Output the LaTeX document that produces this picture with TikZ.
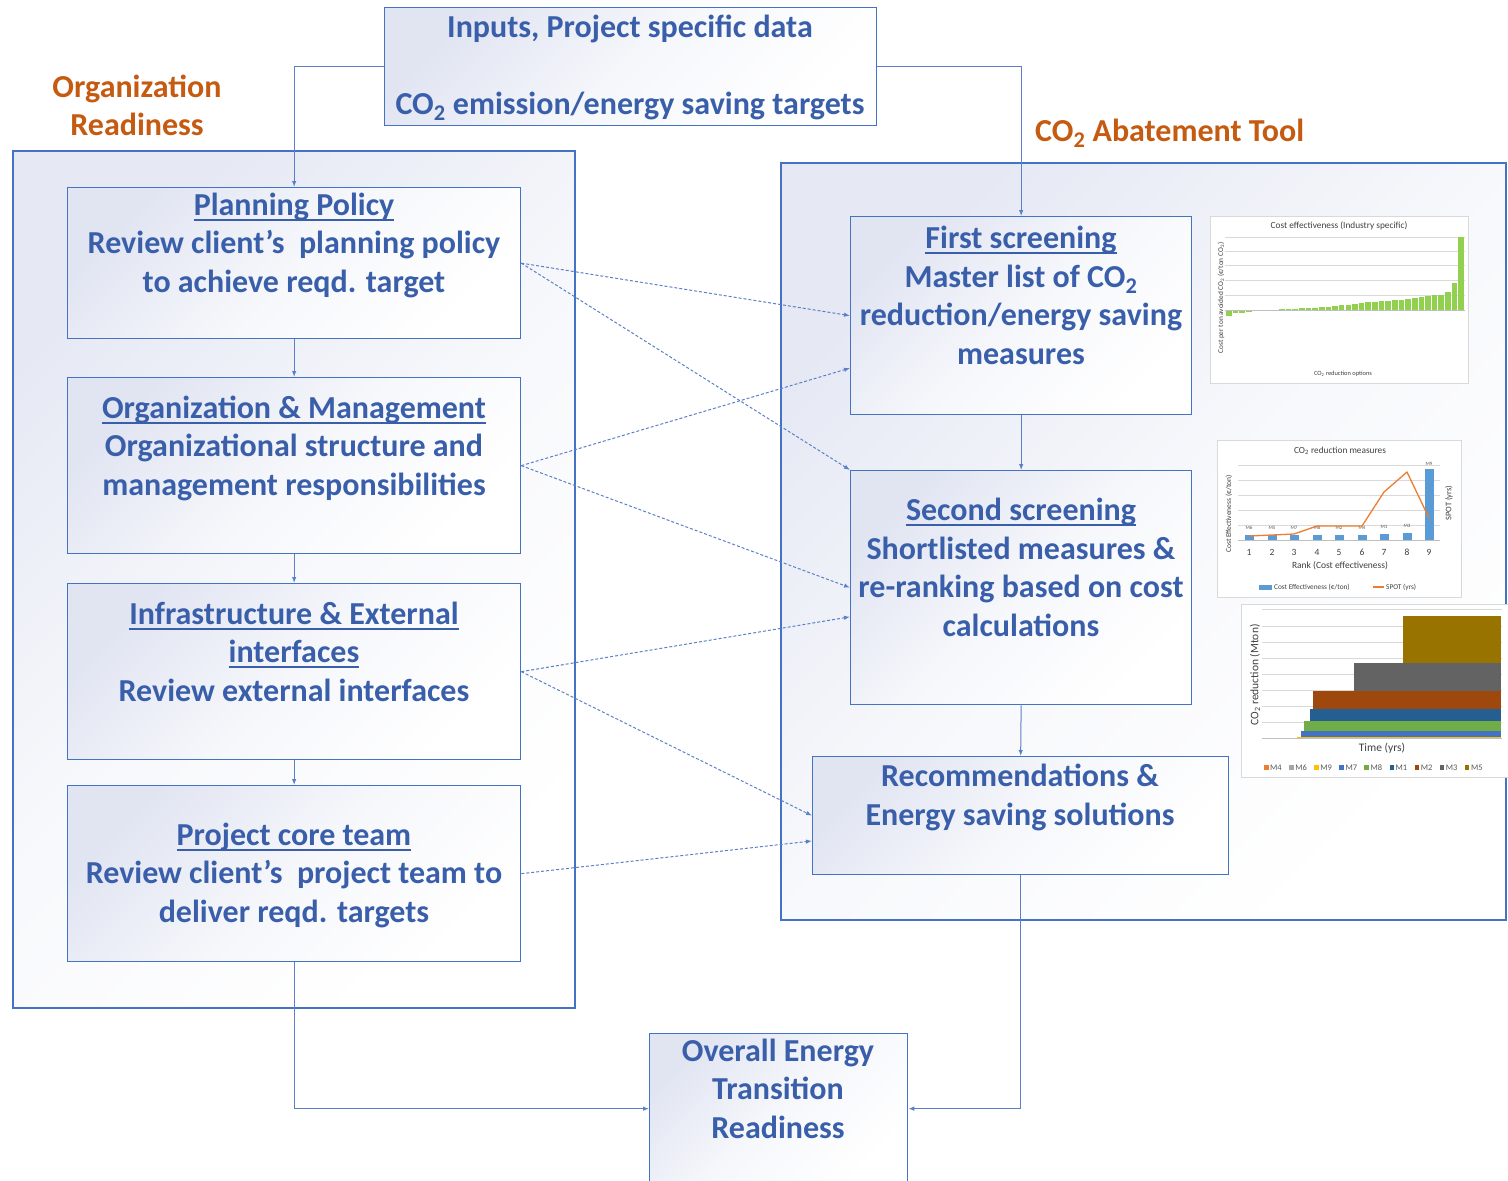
\documentclass[tikz,border=0pt]{standalone}
\usepackage{fontspec}
\setmainfont{Carlito}
\usetikzlibrary{arrows.meta,calc}
\definecolor{txtblue}{HTML}{3A5FAA}
\definecolor{orng}{HTML}{C55A11}
\definecolor{bordblue}{HTML}{4472C4}
\definecolor{connblue}{HTML}{5B80C8}
\definecolor{lav}{HTML}{E1E5F2}
\definecolor{gridg}{HTML}{D9D9D9}
\definecolor{axg}{HTML}{BFBFBF}
\definecolor{lblg}{HTML}{595959}
\definecolor{barg}{HTML}{92D050}
\definecolor{barb}{HTML}{5B9BD5}
\definecolor{lorng}{HTML}{ED7D31}
\definecolor{cMfour}{HTML}{ED7D31}
\definecolor{cMsix}{HTML}{A5A5A5}
\definecolor{cMnine}{HTML}{FFC000}
\definecolor{cMseven}{HTML}{4472C4}
\definecolor{cMeight}{HTML}{70AD47}
\definecolor{cMone}{HTML}{255E91}
\definecolor{cMtwo}{HTML}{9E480E}
\definecolor{cMthree}{HTML}{636363}
\definecolor{cMfive}{HTML}{997300}
\newcommand\uln[1]{\setbox0\hbox{#1}\rlap{\rule[-5.5pt]{\wd0}{1.9pt}}\box0}
\newcommand\cotwo{CO\textsubscript{2}}
\begin{document}
\begin{tikzpicture}[x=1pt,y=-1pt,
  box/.style={draw=bordblue, line width=1.3pt, top color=lav, bottom color=white, middle color=lav!30!white, shading angle=45, inner sep=0pt, anchor=north west},
  outer/.style={draw=bordblue, line width=1.3pt, top color=lav!85, bottom color=white, middle color=lav!25!white, shading angle=45},
  big/.style={font=\fontsize{32}{38.5}\selectfont\bfseries, text=txtblue, align=center, inner sep=0pt, anchor=base},
  head/.style={font=\fontsize{32}{38}\selectfont\bfseries, text=orng, align=center, inner sep=0pt, anchor=base},
  conn/.style={draw=connblue, line width=1pt, -{Latex[length=6pt,width=4.5pt]}},
  dconn/.style={conn, dash pattern=on 3pt off 2pt},
  chartframe/.style={draw=gridg, line width=0.8pt, fill=white},
  gridl/.style={draw=gridg, line width=0.6pt},
  small/.style={text=lblg, inner sep=0pt}
]
\useasboundingbox (0,0) rectangle (1508,1181);
\clip (0,0) rectangle (1508,1181);

% outer containers
\path[outer] (13,151) rectangle (575,1008);
\path[outer] (781,163) rectangle (1506,920);

% headings
\node[head] (orgread) at (137,135) {Organization\\Readiness};
\node[head, anchor=base west] (abt) at (1035,141) {\cotwo{} Abatement Tool};

% boxes
\node[box, minimum width=492pt, minimum height=118pt] (inp) at (384,7) {};
\node[box, minimum width=453pt, minimum height=151pt] (pp) at (67,187) {};
\node[box, minimum width=453pt, minimum height=176pt] (om) at (67,377) {};
\node[box, minimum width=453pt, minimum height=176pt] (inf) at (67,583) {};
\node[box, minimum width=453pt, minimum height=176pt] (pc) at (67,785) {};
\node[box, minimum width=341pt, minimum height=198pt] (fs) at (850,216) {};
\node[box, minimum width=341pt, minimum height=234pt] (ss) at (850,470) {};
\node[box, minimum width=416pt, minimum height=118pt] (rec) at (812,756) {};
\node[box, minimum width=258pt, minimum height=150pt] (ov) at (649,1033) {};

% texts (anchor = baseline of last line)
\node[big] (inpt) at (630,114) {Inputs, Project specific data\\[38.5pt]\cotwo{} emission/energy saving targets};
\node[big] (ppt) at (294,292) {\uln{Planning Policy}\\Review client’s\ \ planning policy\\to achieve reqd. target};
\node[big] (omt) at (294,495) {\uln{Organization \& Management}\\Organizational structure and\\management responsibilities};
\node[big] (inft) at (294,701) {\uln{Infrastructure \& External}\\\uln{interfaces}\\Review external interfaces};
\node[big] (pct) at (294,922) {\uln{Project core team}\\Review client’s\ \ project team to\\deliver reqd. targets};
\node[big] (fst) at (1021,364) {\uln{First screening}\\Master list of \cotwo\\reduction/energy saving\\measures};
\node[big] (sst) at (1021,636) {\uln{Second screening}\\Shortlisted measures \&\\re-ranking based on cost\\calculations};
\node[big] (rect) at (1020,825) {Recommendations \&\\Energy saving solutions};
\node[big] (ovt) at (778,1138) {Overall Energy\\Transition\\Readiness};

% solid connectors
\draw[conn] (inp.west) -| (pp.north);
\draw[conn] (inp.east) -| (fs.north);
\draw[conn] (pp.south) -- (om.north);
\draw[conn] (om.south) -- (inf.north);
\draw[conn] (inf.south) -- (pc.north);
\draw[conn] (fs.south) -- (ss.north);
\draw[conn] (ss.south) -- (rec.north);
\draw[conn] (pc.south) |- (ov.west);
\draw[conn] (rec.south) |- (ov.east);

% dashed connectors
\draw[dconn] (pp.east) -- (fs.west);
\draw[dconn] (pp.east) -- (ss.north west);
\draw[dconn] (om.east) -- ($(fs.south west)!0.237!(fs.north west)$);
\draw[dconn] (om.east) -- (ss.west);
\draw[dconn] (inf.east) -- ($(ss.south west)!0.376!(ss.north west)$);
\draw[dconn] (inf.east) -- (rec.west);
\draw[dconn] (pc.east) -- ($(rec.south west)!0.288!(rec.north west)$);

% ---------- chart 1 ----------
\path[chartframe] (1210,216) rectangle (1468,383);
\foreach \yy in {237,251,265,280,295} \draw[gridl] (1225,\yy) -- (1465,\yy);
\foreach \h [count=\i] in {-6,-3,-2.5,-2,-0.8,-0.5,0.4,0.5,0.7,1,1.3,1.6,2,2.5,3,3.5,4,5,5.5,6,7,8,8.5,9,9.5,10,10.5,11,12,13,14,15,15.5,18,27,73}
  \fill[barg] ({1226+(\i-1)*6.64},310) rectangle ++(5.6,{-\h});
\draw[axg, line width=0.6pt] (1225,310) -- (1465,310);
\node[small, font=\fontsize{9.3}{11}\selectfont, text=black!75] (c1t) at (1339,226) {Cost effectiveness (Industry specific)};
\node[small, font=\fontsize{7.3}{9}\selectfont, rotate=90, text=black!75] (c1y) at (1221,298) {Cost per ton avoided \cotwo{} (€/ton \cotwo)};
\node[small, font=\fontsize{6.4}{8}\selectfont, text=black!75] (c1x) at (1343,374) {\cotwo{} reduction options};

% ---------- chart 2 ----------
\path[chartframe] (1217,440) rectangle (1461,597);
\foreach \yy in {465,480,495,510,525} \draw[gridl] (1238,\yy) -- (1440,\yy);
\foreach \x/\h/\m in {1249/5/M6,1272/5/M5,1294/5/M7,1317/5/M8,1339/5/M2,1362/5/M4,1384/6.5/M1,1407/7/M3} {
  \fill[barb] (\x-4.5,540) rectangle ++(9,{-\h});
  \node[small, font=\fontsize{5}{6}\selectfont] (lab\m) at (\x,{533-\h}) {\m};
}
\fill[barb] (1424.5,540) rectangle (1433.5,469);
\node[small, font=\fontsize{5}{6}\selectfont] (labM9) at (1429,464) {M9};
\draw[axg, line width=0.6pt] (1238,540) -- (1440,540);
\draw[lorng, line width=1.3pt, line join=round] (1249,536) -- (1272,535) -- (1294,534) -- (1317,526) -- (1339,526) -- (1362,526) -- (1384,492) -- (1407,472) -- (1429,518);
\foreach \x [count=\i] in {1249,1272,1294,1317,1339,1362,1384,1407,1429}
  \node[small, font=\fontsize{9.5}{11}\selectfont, text=black!75] (rk\i) at (\x,552) {\i};
\node[small, font=\fontsize{9.3}{11}\selectfont, text=black!75] (c2t) at (1340,451) {\cotwo{} reduction measures};
\node[small, font=\fontsize{9.5}{11}\selectfont, text=black!75] (c2x) at (1340,566) {Rank (Cost effectiveness)};
\node[small, font=\fontsize{7.5}{9}\selectfont, rotate=90, text=black!75] (c2y) at (1229,514) {Cost Effectiveness (€/ton)};
\node[small, font=\fontsize{8.5}{10}\selectfont, rotate=90, text=black!75] (c2y2) at (1449,503) {SPOT (yrs)};
\fill[barb] (1259,585) rectangle (1272,589.5);
\node[small, font=\fontsize{7.3}{9}\selectfont, anchor=west, text=black!75] (c2l1) at (1274,587) {Cost Effectiveness (€/ton)};
\draw[lorng, line width=1.2pt] (1373,587) -- (1384,587);
\node[small, font=\fontsize{7.3}{9}\selectfont, anchor=west, text=black!75] (c2l2) at (1386,587) {SPOT (yrs)};

% ---------- chart 3 ----------
\path[chartframe] (1241,604) rectangle (1508,777);
\foreach \yy in {609,626,642,658,674,690,706,722} \draw[gridl] (1262,\yy) -- (1502,\yy);
\fill[cMnine] (1297,736.5) rectangle (1501,738);
\fill[cMseven] (1301,731) rectangle (1501,736.5);
\fill[cMeight] (1304,721) rectangle (1501,731);
\fill[cMone] (1310,709) rectangle (1501,721);
\fill[cMtwo] (1313,691) rectangle (1501,709);
\fill[cMthree] (1354,663) rectangle (1501,691);
\fill[cMfive] (1403,616) rectangle (1501,663);
\draw[axg, line width=0.6pt] (1262,738) -- (1502,738);
\node[small, font=\fontsize{11.5}{13}\selectfont, rotate=90, text=black!75] (c3y) at (1255,675) {\cotwo{} reduction (Mton)};
\node[small, font=\fontsize{11.5}{13}\selectfont, text=black!75] (c3x) at (1382,748) {Time (yrs)};
\foreach \c/\t [count=\i] in {cMfour/M4,cMsix/M6,cMnine/M9,cMseven/M7,cMeight/M8,cMone/M1,cMtwo/M2,cMthree/M3,cMfive/M5} {
  \fill[\c] ({1264+(\i-1)*25.1},765) rectangle ++(4.5,4.5);
  \node[small, font=\fontsize{8.5}{10}\selectfont, anchor=west] (lg\t) at ({1270+(\i-1)*25.1},767.3) {\t};
}
\end{tikzpicture}
\end{document}
